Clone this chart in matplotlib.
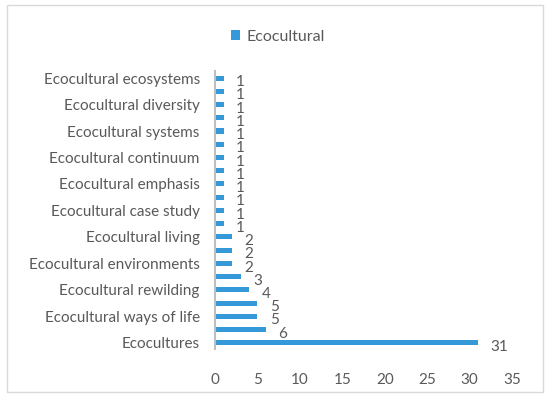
import matplotlib.pyplot as plt
from matplotlib.patches import Rectangle

# bottom to top; only every other label is printed on the axis
categories = ['Ecocultures', '', 'Ecocultural ways of life', '', 'Ecocultural rewilding', '',
              'Ecocultural environments', '', 'Ecocultural living', '', 'Ecocultural case study', '',
              'Ecocultural emphasis', '', 'Ecocultural continuum', '', 'Ecocultural systems', '',
              'Ecocultural diversity', '', 'Ecocultural ecosystems']
values = [31, 6, 5, 5, 4, 3, 2, 2, 2, 1, 1, 1, 1, 1, 1, 1, 1, 1, 1, 1, 1]
xticks = [0, 5, 10, 15, 20, 25, 30, 35]

plt.rcParams['font.family'] = ['Lato', 'DejaVu Sans']
grey = '#595959'
blue = '#3598d8'

fig = plt.figure(figsize=(5.5, 3.97), dpi=100)
fig.patches.append(Rectangle((7 / 550, 5 / 397), 536 / 550, 387 / 397, transform=fig.transFigure,
                             fill=False, edgecolor='#d9d9d9', linewidth=1.0))
ax = fig.add_axes([0.391, 0.12, 0.54, 0.70])

pos = list(range(len(values)))
ax.barh(pos, values, height=0.38, color=blue, label='Ecocultural')
for y, v in zip(pos, values):
    ax.annotate(str(v), (v, y), xytext=(9, -3), textcoords='offset points',
                ha='left', va='center', fontsize=11, color=grey)

ax.set_xlim(0, 35)
ax.set_ylim(-0.5, len(values) - 0.5)
ax.set_xticks(xticks)
ax.set_yticks(pos)
ax.set_yticklabels(categories)
ax.tick_params(axis='both', length=0, labelsize=11, colors=grey)
ax.tick_params(axis='x', pad=17)
ax.tick_params(axis='y', pad=11)
for s in ['top', 'right', 'bottom']:
    ax.spines[s].set_visible(False)
ax.spines['left'].set_color('#bfbfbf')
ax.spines['left'].set_linewidth(1.5)

leg = fig.legend(loc='center', bbox_to_anchor=(0.505, 0.908), frameon=False, fontsize=11.5,
                 handlelength=0.6, handleheight=0.6, handletextpad=0.4)
for t in leg.get_texts():
    t.set_color(grey)

fig.savefig('out.png', dpi=100)
